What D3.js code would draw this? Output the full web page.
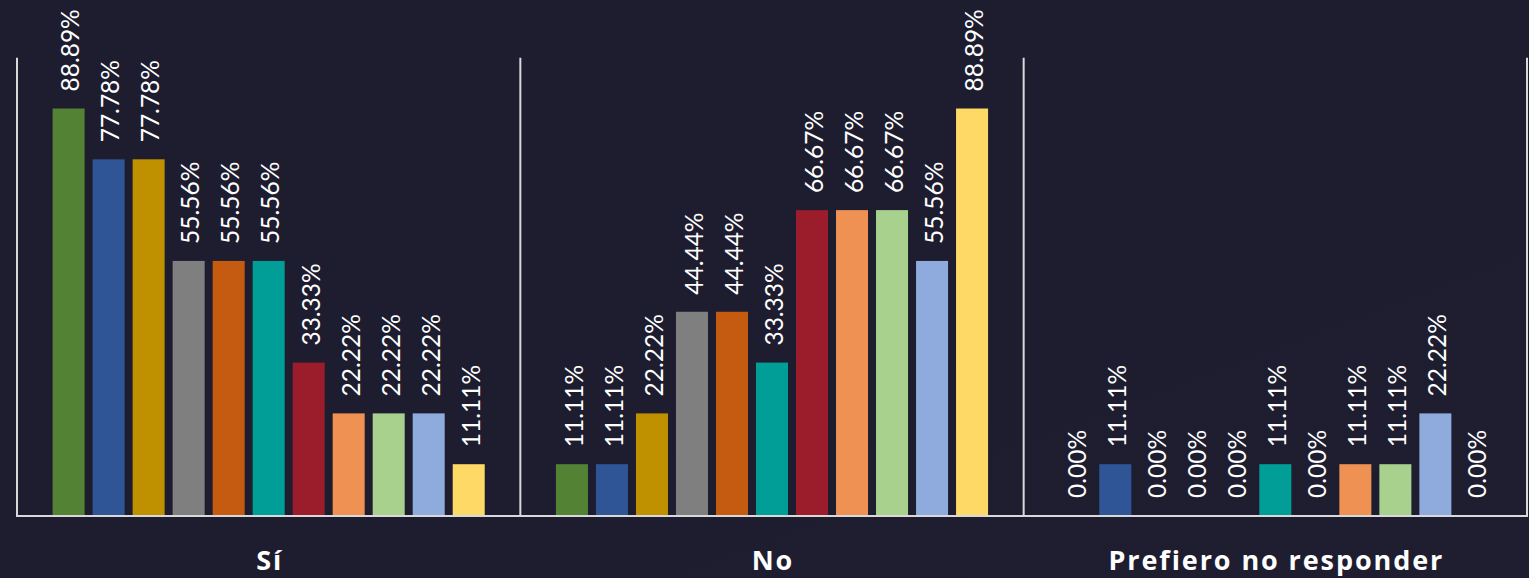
<!DOCTYPE html>
<html>
<head>
<meta charset="utf-8">
<script src="https://cdn.jsdelivr.net/npm/d3@7/dist/d3.min.js"></script>
<style>
  html, body { margin: 0; padding: 0; background: #1e1d30; }
  svg { display: block; }
</style>
</head>
<body>
<svg id="chart" width="1529" height="578"></svg>
<script>
const categories = ["Sí", "No", "Prefiero no responder"];
const seriesNames = ["Serie 1", "Serie 2", "Serie 3", "Serie 4", "Serie 5", "Serie 6",
                     "Serie 7", "Serie 8", "Serie 9", "Serie 10", "Serie 11"];
const valuesSi = [88.89, 77.78, 77.78, 55.56, 55.56, 55.56, 33.33, 22.22, 22.22, 22.22, 11.11];
const valuesNo = [11.11, 11.11, 22.22, 44.44, 44.44, 33.33, 66.67, 66.67, 66.67, 55.56, 88.89];
const valuesPrefiero = [0.00, 11.11, 0.00, 0.00, 0.00, 11.11, 0.00, 11.11, 11.11, 22.22, 0.00];
const seriesColors = ["#548235", "#2f5597", "#bf9000", "#7f7f7f", "#c55a11", "#009e96",
                      "#9b1c2b", "#ee9152", "#a9d18e", "#8faadc", "#ffd966"];

const groupValues = [valuesSi, valuesNo, valuesPrefiero];

const svg = d3.select("#chart");
const W = 1529, H = 578;

// background
const defs = svg.append("defs");
const grad = defs.append("linearGradient").attr("id", "bg")
  .attr("x1", "0%").attr("y1", "0%").attr("x2", "100%").attr("y2", "100%");
grad.append("stop").attr("offset", "0%").attr("stop-color", "#1e1d30");
grad.append("stop").attr("offset", "60%").attr("stop-color", "#1e1d30");
grad.append("stop").attr("offset", "100%").attr("stop-color", "#1f1e31");
svg.append("rect").attr("width", W).attr("height", H).attr("fill", "url(#bg)");

const left = 17, right = 1527, baseY = 515, topY = 57.7;

const x0 = d3.scaleBand().domain(categories).range([left, right]).padding(0);
const x1 = d3.scaleBand().domain(seriesNames).range([0, x0.bandwidth()])
  .paddingInner(0.2).paddingOuter(0.89);
const y = d3.scaleLinear().domain([0, 100]).range([baseY, topY]);

const data = [];
categories.forEach((c, gi) => {
  seriesNames.forEach((s, si) => {
    data.push({cat: c, series: s, value: groupValues[gi][si], color: seriesColors[si]});
  });
});

// bars
svg.append("g").selectAll("rect").data(data).join("rect")
  .attr("x", d => x0(d.cat) + x1(d.series))
  .attr("y", d => y(d.value))
  .attr("width", x1.bandwidth())
  .attr("height", d => y(0) - y(d.value))
  .attr("fill", d => d.color);

// frame lines
const lineColor = "#d9d9d9";
const frame = svg.append("g").attr("stroke", lineColor).attr("stroke-width", 2);
const boundaries = categories.map(c => x0(c)).concat([x0(categories[categories.length - 1]) + x0.bandwidth()]);
boundaries.forEach(bx => {
  frame.append("line").attr("x1", bx).attr("x2", bx).attr("y1", topY).attr("y2", baseY + 2);
});
frame.append("line").attr("x1", left - 1).attr("x2", right + 1).attr("y1", baseY + 1).attr("y2", baseY + 1);

// value labels
svg.append("g").selectAll("text").data(data).join("text")
  .attr("transform", d => {
    const cx = x0(d.cat) + x1(d.series) + x1.bandwidth() / 2 + 2;
    const cy = y(d.value) - 17;
    return `translate(${cx},${cy}) rotate(-90)`;
  })
  .attr("dy", "0.36em")
  .attr("text-anchor", "start")
  .attr("fill", "#ffffff")
  .attr("font-family", "Lato, 'Open Sans', sans-serif")
  .attr("font-size", 24.5)
  .text(d => d.value.toFixed(2) + "%");

// category labels
svg.append("g").selectAll("text").data(categories).join("text")
  .attr("x", d => x0(d) + x0.bandwidth() / 2 + 1)
  .attr("y", 570)
  .attr("text-anchor", "middle")
  .attr("fill", "#ffffff")
  .attr("font-family", "'Open Sans', Lato, sans-serif")
  .attr("font-weight", "bold")
  .attr("font-size", 27)
  .attr("letter-spacing", 1.9)
  .text(d => d);
</script>
</body>
</html>
